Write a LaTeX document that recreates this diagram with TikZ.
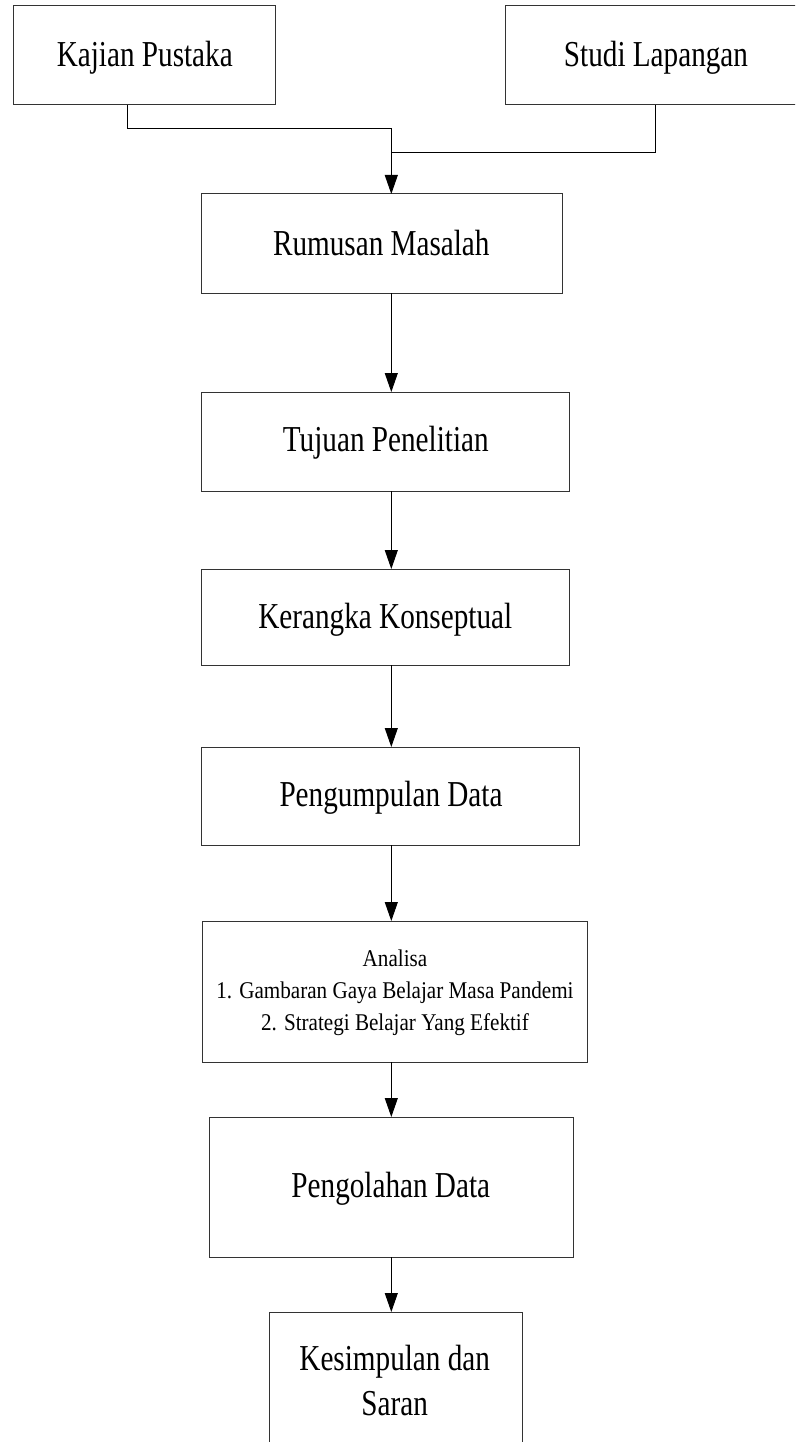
\documentclass[tikz,border=0pt]{standalone}
\usepackage{fontspec}
\setmainfont{Liberation Serif}
\newfontfamily\bigcond[FakeStretch=0.80]{Liberation Serif}
\newfontfamily\smallcond[FakeStretch=0.88]{Liberation Serif}
\usetikzlibrary{arrows.meta}
\begin{document}
\begin{tikzpicture}[x=1pt,y=-1pt,
  box/.style={draw=black!80, line width=1pt, inner sep=0pt, outer sep=0pt},
  bigtxt/.style={anchor=base, inner sep=0pt, font=\bigcond\fontsize{36.5}{45}\selectfont},
  smalltxt/.style={anchor=base, inner sep=0pt, font=\smallcond\fontsize{24}{32.2}\selectfont},
  conn/.style={draw=black, line width=0.9pt},
  arr/.style={conn, -{Triangle[length=19pt,width=13pt]}}]
\useasboundingbox (0,0) rectangle (795,1442);
\clip (0,0) rectangle (795,1442);
% boxes
\node[box, minimum width=262pt, minimum height=99pt] (kajian) at (144.7,55.5) {};
\node[box, minimum width=325pt, minimum height=99pt] (studi) at (667.5,55.5) {};
\node[box, minimum width=361pt, minimum height=99pt] (rumusan) at (381.5,243.5) {};
\node[box, minimum width=368pt, minimum height=99pt] (tujuan) at (385,441.5) {};
\node[box, minimum width=368pt, minimum height=96pt] (kerangka) at (385,617) {};
\node[box, minimum width=378pt, minimum height=98pt] (pengumpulan) at (390,796) {};
\node[box, minimum width=385pt, minimum height=141pt] (analisa) at (394.5,991.5) {};
\node[box, minimum width=364pt, minimum height=140pt] (pengolahan) at (391,1187) {};
\node[box, minimum width=253pt, minimum height=148pt] (kesimpulan) at (395.5,1386) {};
% texts
\node[bigtxt] (tkajian) at (144.8,66.7) {Kajian Pustaka};
\node[bigtxt] (tstudi) at (656,66.7) {Studi Lapangan};
\node[bigtxt] (trumusan) at (381.3,255) {Rumusan Masalah};
\node[bigtxt] (ttujuan) at (385.8,451.7) {Tujuan Penelitian};
\node[bigtxt] (tkerangka) at (385.3,628.3) {Kerangka Konseptual};
\node[bigtxt] (tpengumpulan) at (391,806.7) {Pengumpulan Data};
\node[smalltxt] (tanalisa) at (395,966) {\begin{tabular}[t]{@{}c@{}}Analisa\\1. Gambaran Gaya Belajar Masa Pandemi\\2. Strategi Belajar Yang Efektif\end{tabular}};
\node[bigtxt] (tpengolahan) at (390.8,1197.3) {Pengolahan Data};
\node[bigtxt] (tkesimpulan) at (394.7,1370) {\begin{tabular}[t]{@{}c@{}}Kesimpulan dan\\Saran\end{tabular}};
% connector coordinates
\coordinate (kx) at (127.7,0);
\coordinate (sx) at (655,0);
\coordinate (ax) at (391.3,0);
\coordinate (j1) at (0,128);
\coordinate (j2) at (0,152);
% connectors
\draw[arr] (kajian.south -| kx) |- (ax |- j1) -- (rumusan.north -| ax);
\draw[conn] (studi.south -| sx) |- (ax |- j2);
\draw[arr] (rumusan.south -| ax) -- (tujuan.north -| ax);
\draw[arr] (tujuan.south -| ax) -- (kerangka.north -| ax);
\draw[arr] (kerangka.south -| ax) -- (pengumpulan.north -| ax);
\draw[arr] (pengumpulan.south -| ax) -- (analisa.north -| ax);
\draw[arr] (analisa.south -| ax) -- (pengolahan.north -| ax);
\draw[arr] (pengolahan.south -| ax) -- (kesimpulan.north -| ax);
\end{tikzpicture}
\end{document}
